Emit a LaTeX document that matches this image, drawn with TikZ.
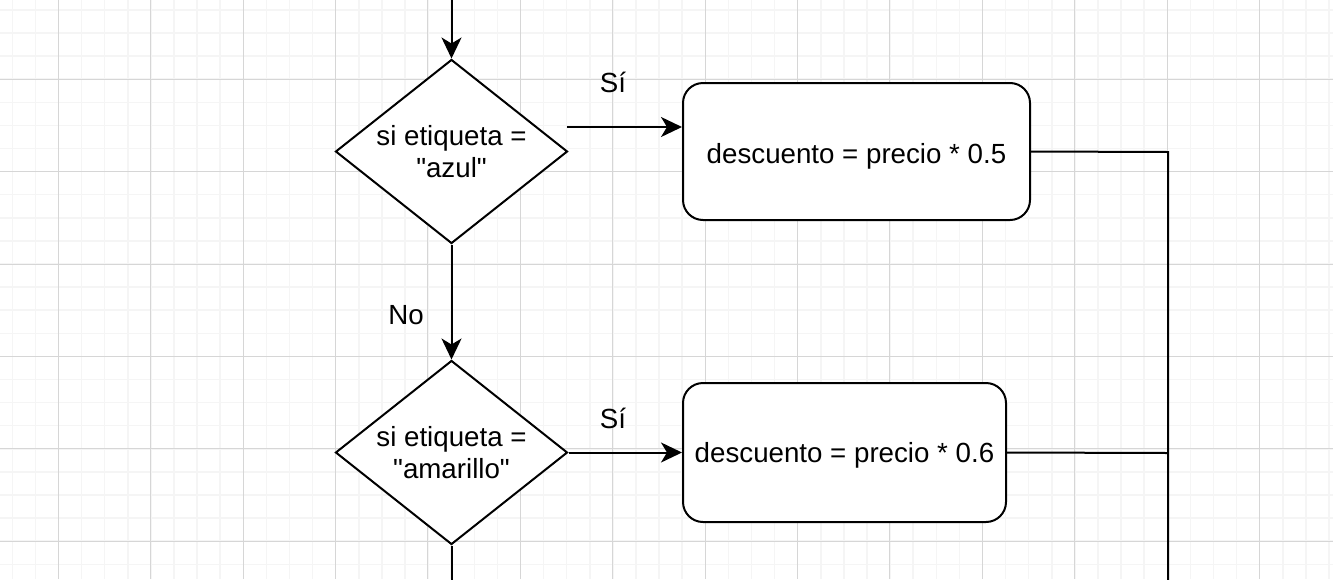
\documentclass[tikz,border=0pt]{standalone}
\usepackage{fontspec}
\setmainfont{Liberation Sans}[Ligatures=TeXOff]
\usetikzlibrary{shapes.geometric,arrows.meta}
\definecolor{gridmajor}{RGB}{214,214,214}
\definecolor{gridminor}{RGB}{245,245,245}
\tikzset{
  minorline/.style={draw=gridminor,line width=1.5pt},
  majorline/.style={draw=gridmajor,line width=1pt},
  decision/.style={diamond,draw,line width=2pt,fill=white,minimum width=232pt,minimum height=184pt,inner sep=0pt,align=center,aspect=1.26,font=\fontsize{27.7}{32.4}\selectfont},
  process/.style={rectangle,rounded corners=20pt,draw,line width=2pt,fill=white,align=center,text depth=0pt,font=\fontsize{27.7}{32.4}\selectfont},
  conn/.style={line width=2pt},
  arr/.style={conn,-{Stealth[length=21pt,width=20pt,inset=6pt]}},
  lbl/.style={font=\fontsize{27.7}{32.4}\selectfont,inner sep=0pt}
}
\begin{document}
\begin{tikzpicture}[x=1pt,y=-1pt]
\useasboundingbox (0,0) rectangle (1333,579);
\fill[white] (0,0) rectangle (1333,579);
\foreach \i in {0,...,57} \draw[minorline] ({12.3+23.1*\i},0) -- ({12.3+23.1*\i},579);
\foreach \i in {0,...,24} \draw[minorline] (0,{9.9+23.1*\i}) -- (1333,{9.9+23.1*\i});
\foreach \i in {0,...,14} \draw[majorline] ({58.2+92.4*\i},0) -- ({58.2+92.4*\i},579);
\foreach \i in {-1,...,5} \draw[majorline] (0,{79.2+92.4*\i}) -- (1333,{79.2+92.4*\i});

\node[decision] (d1) at (451.5,151.5) {si etiqueta =\\"azul"};
\node[decision] (d2) at (451.5,452.5) {si etiqueta =\\"amarillo"};
\node[process,minimum width=347pt,minimum height=137pt,text height=24pt] (b1) at (856.5,151.5) {descuento = precio * 0.5};
\node[process,minimum width=323pt,minimum height=139pt,text height=20pt] (b2) at (844.5,452.5) {descuento = precio * 0.6};

\coordinate (top) at (451.5,-2);
\coordinate (s1) at (567,127);
\coordinate (j1) at (1168,152);
\coordinate (j2) at (1168,453);
\coordinate (jb) at (1168,582);
\coordinate (d2b) at (451.5,582);

\draw[arr] (top) -- (d1.north);
\draw[arr] (s1) -- (s1 -| b1.west);
\node[lbl] (si1) at (613,82) {Sí};
\draw[arr] (d1.south) -- (d2.north);
\node[lbl] (no1) at (406,315) {No};
\draw[arr] (d2.east) -- (b2.west);
\node[lbl] (si2) at (613,418) {Sí};
\draw[conn] (b1.east) -- (j1) -- (jb);
\draw[conn] (b2.east) -- (j2);
\draw[conn] (d2.south) -- (d2b);
\end{tikzpicture}
\end{document}
